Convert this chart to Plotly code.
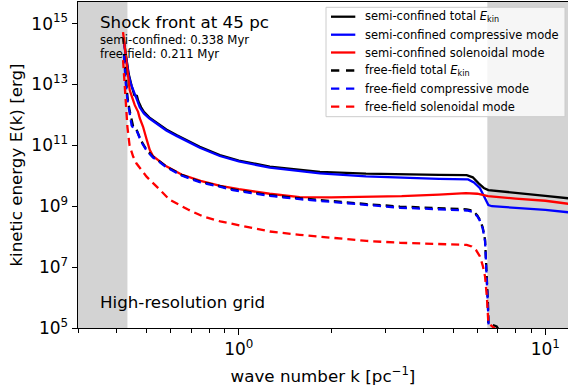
import plotly.graph_objects as go

# ---- data (k in pc^-1, energies as log10(E/erg)) ----
k_sc_total = [0.420, 0.425, 0.430, 0.437, 0.447, 0.456, 0.465, 0.470, 0.480, 0.49, 0.51, 0.525, 0.58,
              0.626, 0.68, 0.746, 0.867, 1.0, 1.262, 1.58, 1.84, 2.6, 3.4, 4.5, 5.54, 5.8, 6.06,
              6.3, 6.52, 7.0, 8.0, 10.0, 11.9]
logE_sc_total = [14.55, 14.15, 13.75, 13.35, 12.95, 12.65, 12.62, 12.45, 12.25, 12.10, 11.92, 11.83, 11.52,
                 11.34, 11.15, 10.95, 10.68, 10.50, 10.30, 10.20, 10.13, 10.07, 10.04, 10.03, 10.02, 9.95, 9.75,
                 9.60, 9.53, 9.49, 9.44, 9.34, 9.26]

k_sc_comp = [0.420, 0.425, 0.430, 0.437, 0.445, 0.456, 0.465, 0.475, 0.49, 0.51, 0.525, 0.58, 0.626,
             0.68, 0.746, 0.867, 1.0, 1.262, 1.58, 1.84, 2.6, 3.4, 4.5, 5.6, 5.85, 6.12, 6.35,
             6.52, 6.7, 8.0, 10.0, 11.9]
logE_sc_comp = [14.50, 14.10, 13.70, 13.30, 13.00, 12.68, 12.50, 12.25, 12.05, 11.89, 11.80, 11.49, 11.31,
                11.12, 10.92, 10.65, 10.47, 10.27, 10.16, 10.08, 9.98, 9.93, 9.90, 9.88, 9.78, 9.59, 9.25,
                9.04, 9.00, 8.95, 8.88, 8.80]

k_sc_sol = [0.419, 0.425, 0.430, 0.4405, 0.4576, 0.469, 0.475, 0.487, 0.500, 0.512, 0.525, 0.55, 0.58,
            0.65, 0.75, 0.87, 1.0, 1.26, 1.58, 2.0, 2.6, 3.4, 4.5, 5.5, 6.0, 6.5, 8.0, 10.0, 11.9]
logE_sc_sol = [14.72, 14.20, 13.69, 12.81, 12.32, 12.10, 11.89, 11.61, 11.20, 10.85, 10.64, 10.48, 10.31,
               10.04, 9.83, 9.67, 9.56, 9.41, 9.30, 9.29, 9.31, 9.33, 9.38, 9.43, 9.41, 9.33, 9.25, 9.18, 9.08]

k_ff_total = [0.422, 0.427, 0.433, 0.440, 0.447, 0.452, 0.462, 0.467, 0.480, 0.500, 0.525, 0.55, 0.58,
              0.65, 0.746, 0.867, 0.956, 1.1, 1.262, 1.582, 1.838, 2.612, 3.355, 4.5, 5.54, 5.8, 6.0,
              6.12, 6.25, 6.36, 6.44, 6.50, 6.52, 6.94, 7.1]
logE_ff_total = [14.00, 13.20, 12.60, 12.15, 11.80, 11.62, 11.55, 11.45, 11.15, 10.85, 10.62, 10.48, 10.30,
                 10.03, 9.81, 9.66, 9.55, 9.45, 9.36, 9.26, 9.20, 9.07, 8.99, 8.94, 8.90, 8.85, 8.70,
                 8.55, 8.30, 7.90, 6.90, 5.80, 5.16, 5.05, 4.90]

k_ff_comp = [0.422, 0.427, 0.433, 0.440, 0.447, 0.452, 0.462, 0.467, 0.480, 0.500, 0.525, 0.55, 0.58,
             0.65, 0.746, 0.867, 0.956, 1.1, 1.262, 1.582, 1.838, 2.612, 3.355, 4.5, 5.54, 5.8, 6.0,
             6.12, 6.25, 6.36, 6.44, 6.50, 6.53, 6.8]
logE_ff_comp = [13.95, 13.10, 12.50, 12.00, 11.65, 11.58, 11.52, 11.42, 11.12, 10.83, 10.60, 10.46, 10.28,
                10.01, 9.79, 9.64, 9.53, 9.43, 9.34, 9.23, 9.17, 9.03, 8.95, 8.90, 8.86, 8.82, 8.67,
                8.52, 8.27, 7.85, 6.85, 5.70, 5.10, 4.90]

k_ff_sol = [0.419, 0.424, 0.427, 0.430, 0.433, 0.440, 0.452, 0.463, 0.500, 0.55, 0.595, 0.68, 0.765,
            0.87, 0.983, 1.262, 1.58, 1.838, 2.612, 3.355, 4.5, 5.54, 5.75, 5.95, 6.12, 6.25, 6.36,
            6.45, 6.52, 6.94, 7.1]
logE_ff_sol = [13.80, 13.10, 12.60, 12.20, 11.60, 11.00, 10.63, 10.41, 9.97, 9.56, 9.21, 8.90, 8.66,
               8.50, 8.39, 8.17, 8.06, 8.00, 7.86, 7.80, 7.75, 7.73, 7.68, 7.55, 7.35, 7.05, 6.69,
               6.00, 5.16, 4.95, 4.85]

# shaded (unresolved) wave-number ranges
shade_left = [0.2, 0.433]
shade_right = [6.47, 20.0]

series = [
    ("semi-confined total <i>E</i><sub>kin</sub>", k_sc_total, logE_sc_total, "black", "solid"),
    ("semi-confined compressive mode", k_sc_comp, logE_sc_comp, "blue", "solid"),
    ("semi-confined solenoidal mode", k_sc_sol, logE_sc_sol, "red", "solid"),
    ("free-field total <i>E</i><sub>kin</sub>", k_ff_total, logE_ff_total, "black", "8px,5px"),
    ("free-field compressive mode", k_ff_comp, logE_ff_comp, "blue", "8px,5px"),
    ("free-field solenoidal mode", k_ff_sol, logE_ff_sol, "red", "8px,5px"),
]

FONT = "DejaVu Sans"
BIG = 16.7
W, H = 568, 391
ML, MR, MT, MB = 78, 0, 2, 63
PW, PH = W - ML - MR, H - MT - MB


def px(xp):
    return (xp - ML) / PW


def py(yp):
    return (H - MB - yp) / PH


fig = go.Figure()

for lo, hi in (shade_left, shade_right):
    fig.add_trace(go.Scatter(x=[lo, hi, hi, lo, lo], y=[1e3, 1e3, 1e17, 1e17, 1e3],
                             mode="lines", fill="toself", fillcolor="#d3d3d3",
                             line=dict(width=0), showlegend=False, hoverinfo="skip"))

for name, k, logE, color, dash in series:
    fig.add_trace(go.Scatter(x=k, y=[10 ** v for v in logE], mode="lines", name=name,
                             line=dict(color=color, width=2.3, dash=dash), showlegend=False))

shapes = []
annotations = []

# legend box
shapes.append(dict(type="rect", xref="paper", yref="paper", x0=px(326), x1=px(565), y0=py(116.7), y1=py(7.3),
                   fillcolor="rgba(255,255,255,0.8)", line=dict(color="#cccccc", width=1), layer="above"))
row_y = [16.7, 34.7, 52.5, 70.5, 88.7, 106.7]
for (name, k, logE, color, dash), yy in zip(series, row_y):
    d = "solid" if dash == "solid" else "8.3px,6.7px"
    shapes.append(dict(type="line", xref="paper", yref="paper", x0=px(331), x1=px(355.3), y0=py(yy), y1=py(yy),
                       line=dict(color=color, width=2.3, dash=d), layer="above"))
    annotations.append(dict(xref="paper", yref="paper", x=px(363), y=py(yy), xanchor="left", yanchor="middle",
                            text=name, showarrow=False, font=dict(family=FONT, size=11.5, color="black")))

annotations += [
    dict(xref="paper", yref="paper", x=px(98), y=py(22.5), xanchor="left", yanchor="middle",
         text="Shock front at 45 pc", showarrow=False, font=dict(family=FONT, size=BIG, color="black")),
    dict(xref="paper", yref="paper", x=px(98), y=py(39.5), xanchor="left", yanchor="middle",
         text="semi-confined: 0.338 Myr", showarrow=False, font=dict(family=FONT, size=11.7, color="black")),
    dict(xref="paper", yref="paper", x=px(98), y=py(54.5), xanchor="left", yanchor="middle",
         text="free-field: 0.211 Myr", showarrow=False, font=dict(family=FONT, size=11.7, color="black")),
    dict(xref="paper", yref="paper", x=px(98), y=py(301.7), xanchor="left", yanchor="middle",
         text="High-resolution grid", showarrow=False, font=dict(family=FONT, size=BIG, color="black")),
]

fig.update_layout(
    template="none",
    width=W, height=H,
    margin=dict(l=ML, r=MR, t=MT, b=MB, pad=0),
    paper_bgcolor="white", plot_bgcolor="white",
    font=dict(family=FONT, size=BIG, color="black"),
    shapes=shapes, annotations=annotations,
    showlegend=False,
)

fig.update_xaxes(
    type="log", range=[-0.5248, 1.0741], automargin=False,
    tickmode="array", tickvals=[1, 10], ticktext=["10<sup>0</sup>", "10<sup>1</sup>"],
    ticks="outside", ticklen=5.5, tickwidth=1, tickcolor="black",
    showline=True, linecolor="black", linewidth=1, mirror=True,
    showgrid=False, zeroline=False,
    tickfont=dict(family=FONT, size=17, color="black"),
    minor=dict(tickmode="array", tickvals=[0.3, 0.4, 0.5, 0.6, 0.7, 0.8, 0.9, 2, 3, 4, 5, 6, 7, 8, 9],
               ticks="outside", ticklen=3.5, tickwidth=0.8, tickcolor="black", showgrid=False),
    title=dict(text="wave number k [pc<sup>−1</sup>]", font=dict(family=FONT, size=BIG, color="black"),
               standoff=12),
)

fig.update_yaxes(
    type="log", range=[5, 15.708], automargin=False,
    tickmode="array", tickvals=[1e5, 1e7, 1e9, 1e11, 1e13, 1e15],
    ticktext=["10<sup>5</sup>", "10<sup>7</sup>", "10<sup>9</sup>", "10<sup>11</sup>",
              "10<sup>13</sup>", "10<sup>15</sup>"],
    ticks="outside", ticklen=5.5, tickwidth=1, tickcolor="black",
    showline=True, linecolor="black", linewidth=1, mirror=False,
    showgrid=False, zeroline=False,
    tickfont=dict(family=FONT, size=17, color="black"),
    title=dict(text="kinetic energy E(k) [erg]", font=dict(family=FONT, size=BIG, color="black"),
               standoff=4),
)

fig.write_html("out.html")
